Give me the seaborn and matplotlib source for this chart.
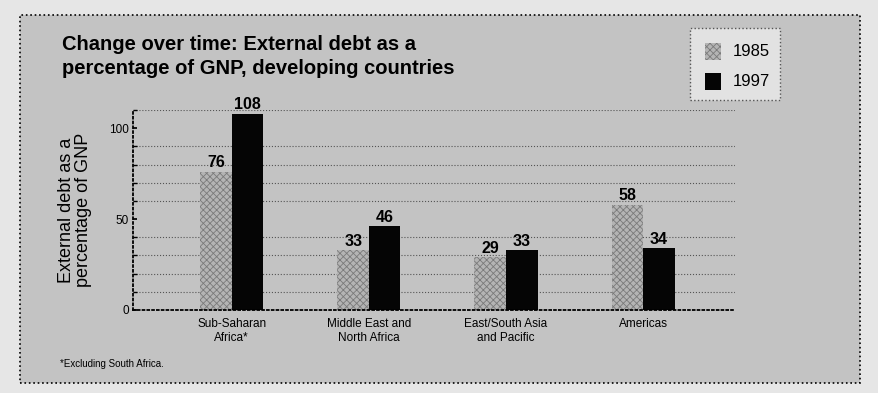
import numpy as np
import pandas as pd
import matplotlib.pyplot as plt
import seaborn as sns
from matplotlib.patches import Rectangle

# 数据
regions = ['Sub-Saharan\nAfrica*', 'Middle East and\nNorth Africa',
           'East/South Asia\nand Pacific', 'Americas']
debt_1985 = [76, 33, 29, 58]
debt_1997 = [108, 46, 33, 34]
years = ['1985', '1997']

df = pd.DataFrame({
    'region': regions * 2,
    'year': ['1985'] * 4 + ['1997'] * 4,
    'debt': debt_1985 + debt_1997,
})

sns.set_theme(style='white')
plt.rcParams['font.family'] = ['Liberation Sans', 'DejaVu Sans']
plt.rcParams['text.color'] = 'black'
plt.rcParams['axes.labelcolor'] = 'black'
plt.rcParams['xtick.color'] = 'black'
plt.rcParams['ytick.color'] = 'black'
plt.rcParams['hatch.color'] = '#7a7a7a'
plt.rcParams['hatch.linewidth'] = 0.6

bg = '#c3c3c3'
fig = plt.figure(figsize=(8.79, 3.93), dpi=100)
fig.patch.set_facecolor('#e6e6e6')

# 外框背景
frame = Rectangle((20 / 879, 1 - 383 / 393), 840 / 879, 368 / 393,
                  transform=fig.transFigure, facecolor=bg,
                  edgecolor='black', linestyle=':', linewidth=1.2, zorder=-5)
fig.patches.append(frame)

ax = fig.add_axes([133 / 879, 1 - 310 / 393, 602 / 879, 200 / 393])
ax.set_facecolor('none')

sns.barplot(data=df, x='region', y='debt', hue='year', hue_order=years,
            palette={'1985': '#b4b4b4', '1997': '#050505'},
            width=0.46, gap=0, saturation=1, ax=ax, legend=False,
            linewidth=0)

n = len(regions)
for bar in ax.patches[:n]:
    bar.set_hatch('xxxxx')
    bar.set_edgecolor('#7a7a7a')
    bar.set_linewidth(0)

# 数值标签
for cont in ax.containers:
    ax.bar_label(cont, fmt='%d', padding=1, fontsize=11.5, fontweight='bold',
                 color='black')

ax.set_xlim(-0.72, 3.67)
ax.set_ylim(0, 110)
ax.set_yticks([0, 50, 100])
ax.set_yticks(np.arange(0, 111, 10), minor=True)
ax.yaxis.grid(True, which='minor', linestyle=':', color='#555555', linewidth=0.8)
ax.set_axisbelow(True)
ax.tick_params(axis='y', which='both', direction='in', length=3, labelsize=8.5,
               left=True, pad=3)
ax.tick_params(axis='x', length=0, labelsize=8.5, pad=6)
for s in ['top', 'right']:
    ax.spines[s].set_visible(False)
for s in ['left', 'bottom']:
    ax.spines[s].set_linestyle(':')
    ax.spines[s].set_color('black')
    ax.spines[s].set_linewidth(1.3)
ax.set_xlabel('')
ax.set_ylabel('External debt as a\npercentage of GNP', fontsize=13,
              labelpad=12, linespacing=1.05)

# 标题
fig.text(62 / 879, 1 - 35 / 393,
         'Change over time: External debt as a\npercentage of GNP, developing countries',
         fontsize=14.5, fontweight='heavy', va='top', ha='left', linespacing=1.3)

# 图例框
lg = Rectangle((690 / 879, 1 - 100 / 393), 90 / 879, 72 / 393,
               transform=fig.transFigure, facecolor='#e2e2e2',
               edgecolor='#555555', linestyle=':', linewidth=1.0)
fig.patches.append(lg)
p1 = Rectangle((705 / 879, 1 - 60 / 393), 16 / 879, 17 / 393,
               transform=fig.transFigure, facecolor='#b4b4b4', hatch='xxxxx',
               edgecolor='#7a7a7a', linewidth=0)
p2 = Rectangle((705 / 879, 1 - 90 / 393), 16 / 879, 17 / 393,
               transform=fig.transFigure, facecolor='#050505', edgecolor='none')
fig.patches.extend([p1, p2])
fig.text(733 / 879, 1 - 52 / 393, '1985', fontsize=12, va='center', ha='left')
fig.text(733 / 879, 1 - 81 / 393, '1997', fontsize=12, va='center', ha='left')

# 脚注
fig.text(60 / 879, 1 - 364 / 393, '*Excluding South Africa.', fontsize=7,
         va='center', ha='left')

fig.savefig('out.png', dpi=100, facecolor=fig.get_facecolor())
